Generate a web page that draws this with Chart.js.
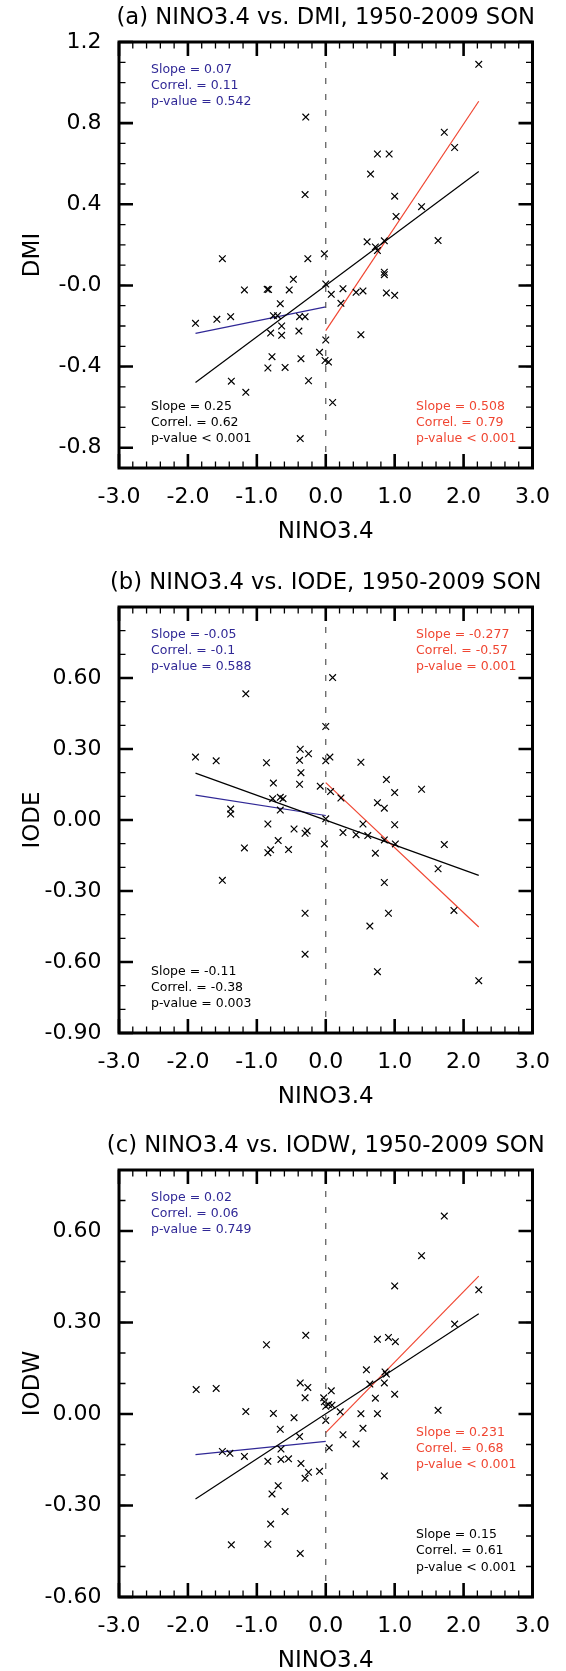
<!DOCTYPE html>
<html>
<head>
<meta charset="utf-8">
<script src="https://cdn.jsdelivr.net/npm/chart.js@4.4.0/dist/chart.umd.min.js"></script>
<style>
  html, body { margin: 0; padding: 0; background: #fff; }
  body { width: 566px; height: 1671px; position: relative; overflow: hidden; }
  .panel { position: absolute; left: 0; width: 566px; }
  canvas { display: block; }
</style>
</head>
<body>
<div class="panel" style="top:0px"><canvas id="chartA" width="566" height="565"></canvas></div>
<div class="panel" style="top:565px"><canvas id="chartB" width="566" height="563"></canvas></div>
<div class="panel" style="top:1128px"><canvas id="chartC" width="566" height="543"></canvas></div>
<script>
// ---- data ----
const xTicks = [-3, -2, -1, 0, 1, 2, 3];
const xTickLabels = ['-3.0', '-2.0', '-1.0', '0.0', '1.0', '2.0', '3.0'];

// (a) NINO3.4 vs DMI
const ninoA = [2.22,-0.29,1.72,1.87,0.75,0.92,0.65,-0.30,1.00,1.39,1.02,0.60,1.63,0.72,0.85,0.75,-1.50,-0.26,-0.02,0.85,
  0.85,-0.47,0.00,-1.18,-0.85,-0.83,-0.53,0.08,0.25,0.44,0.54,0.88,1.00,0.22,-0.66,-1.89,-1.58,-1.38,-0.76,-0.70,
  -0.38,-0.30,-0.64,-0.80,-0.64,-0.39,0.00,0.51,-0.09,-0.78,-0.36,-0.01,0.04,-0.84,-0.59,-1.37,-0.25,-1.16,0.10,-0.37];
const dmi = [1.09,0.83,0.755,0.68,0.648,0.648,0.549,0.448,0.44,0.388,0.34,0.215,0.221,0.19,0.22,0.172,0.132,0.132,0.156,0.065,
  0.053,0.03,0.007,-0.022,-0.019,-0.02,-0.022,-0.044,-0.016,-0.034,-0.027,-0.037,-0.049,-0.088,-0.09,-0.187,-0.167,-0.154,-0.149,-0.149,
  -0.154,-0.154,-0.2,-0.235,-0.246,-0.225,-0.269,-0.243,-0.33,-0.351,-0.361,-0.37,-0.378,-0.407,-0.404,-0.472,-0.47,-0.527,-0.577,-0.755];
const yTicksA = [-0.8, -0.4, 0, 0.4, 0.8, 1.2];
const yTickLabelsA = ['-0.8', '-0.4', '-0.0', '0.4', '0.8', '1.2'];

// (b) NINO3.4 vs IODE
const ninoB = [0.10,-1.16,0.00,-0.37,-0.25,-1.89,-1.59,-0.86,-0.38,0.00,0.06,0.51,-0.36,0.88,-0.76,-0.38,-0.08,1.39,1.00,0.07,
  0.22,-0.77,-0.66,-0.62,0.75,0.85,-1.38,-1.38,-0.66,0.00,-0.84,0.54,1.00,-0.46,-0.27,-0.30,0.25,0.44,0.61,0.85,
  -0.69,-0.02,1.01,1.72,-1.18,-0.54,-0.80,-0.84,0.72,1.63,-1.50,0.85,1.86,-0.30,0.91,0.64,-0.30,0.75,2.22];
const iode = [0.602,0.533,0.395,0.299,0.28,0.266,0.25,0.242,0.252,0.25,0.266,0.244,0.2,0.171,0.156,0.151,0.143,0.13,0.116,0.12,
  0.093,0.09,0.096,0.09,0.073,0.05,0.046,0.025,0.042,0.005,-0.017,-0.017,-0.02,-0.038,-0.046,-0.056,-0.053,-0.062,-0.066,-0.084,
  -0.087,-0.101,-0.101,-0.104,-0.118,-0.125,-0.126,-0.138,-0.14,-0.206,-0.255,-0.264,-0.382,-0.394,-0.394,-0.448,-0.567,-0.641,-0.679];
const yTicksB = [-0.9, -0.6, -0.3, 0, 0.3, 0.6];
const yTickLabelsB = ['-0.90', '-0.60', '-0.30', '0.00', '0.30', '0.60'];

// (c) NINO3.4 vs IODW
const ninoC = [1.72,1.39,1.00,2.22,1.87,-0.29,-0.86,0.75,0.91,1.01,0.59,0.86,0.88,-1.88,-1.59,-0.37,-0.26,0.64,0.85,0.08,
  1.00,-0.30,0.72,-0.03,-0.02,0.00,0.04,0.09,1.63,-1.16,-0.76,0.21,0.51,0.75,-0.46,0.00,-0.66,0.54,-0.38,0.25,
  0.44,0.05,-0.65,-1.50,-1.39,-1.18,-0.84,-0.65,-0.54,-0.36,-0.25,-0.09,-0.30,0.85,-0.69,-0.78,-0.59,-0.80,-1.37,-0.84,-0.37];
const iodw = [0.649,0.519,0.42,0.407,0.295,0.258,0.227,0.245,0.251,0.237,0.145,0.138,0.131,0.08,0.084,0.102,0.087,0.098,0.102,0.076,
  0.065,0.053,0.052,0.053,0.04,0.025,0.031,0.029,0.012,0.008,0.002,0.007,0.001,0.001,-0.012,-0.021,-0.05,-0.047,-0.074,-0.068,
  -0.098,-0.111,-0.115,-0.123,-0.129,-0.139,-0.155,-0.149,-0.147,-0.162,-0.191,-0.188,-0.211,-0.203,-0.235,-0.262,-0.32,-0.361,-0.429,-0.427,-0.457];
const yTicksC = [-0.6, -0.3, 0, 0.3, 0.6];
const yTickLabelsC = ['-0.60', '-0.30', '0.00', '0.30', '0.60'];

// regression line end points (x for all / negative / positive fits)
const fitXAll = [-1.89, 2.22];
const fitXNeg = [-1.89, 0];
const fitXPos = [0, 2.22];
const fitAllA = [-0.478, 0.562], fitNegA = [-0.236, -0.106], fitPosA = [-0.223, 0.908];
const fitAllB = [0.198, -0.234],  fitNegB = [0.105, 0.019],   fitPosB = [0.158, -0.452];
const fitAllC = [-0.279, 0.329], fitNegC = [-0.133, -0.090], fitPosC = [-0.061, 0.452];

// stats text
const statsAllA = ['Slope = 0.25', 'Correl. = 0.62', 'p-value < 0.001'];
const statsNegA = ['Slope = 0.07', 'Correl. = 0.11', 'p-value = 0.542'];
const statsPosA = ['Slope = 0.508', 'Correl. = 0.79', 'p-value < 0.001'];
const statsAllB = ['Slope = -0.11', 'Correl. = -0.38', 'p-value = 0.003'];
const statsNegB = ['Slope = -0.05', 'Correl. = -0.1', 'p-value = 0.588'];
const statsPosB = ['Slope = -0.277', 'Correl. = -0.57', 'p-value = 0.001'];
const statsAllC = ['Slope = 0.15', 'Correl. = 0.61', 'p-value < 0.001'];
const statsNegC = ['Slope = 0.02', 'Correl. = 0.06', 'p-value = 0.749'];
const statsPosC = ['Slope = 0.231', 'Correl. = 0.68', 'p-value < 0.001'];

const BLUE = '#302896';
const RED = '#f04632';
const FONT = '"DejaVu Sans", "Liberation Sans", sans-serif';

Chart.defaults.font.family = FONT;
Chart.defaults.color = '#000';

// frame, inward ticks, titles and stats text, NCL style
const ncDecor = {
  id: 'ncDecor',
  afterDatasetsDraw(chart, args, o) {
    const { ctx, chartArea: a, scales: { x, y } } = chart;
    ctx.save();
    ctx.strokeStyle = '#000';
    const xt = (vals, len, w) => {
      ctx.lineWidth = w;
      ctx.beginPath();
      vals.forEach(v => {
        const p = x.getPixelForValue(v);
        ctx.moveTo(p, a.bottom); ctx.lineTo(p, a.bottom - len);
        ctx.moveTo(p, a.top); ctx.lineTo(p, a.top + len);
      });
      ctx.stroke();
    };
    const yt = (vals, len, w) => {
      ctx.lineWidth = w;
      ctx.beginPath();
      vals.forEach(v => {
        const p = y.getPixelForValue(v);
        ctx.moveTo(a.left, p); ctx.lineTo(a.left + len, p);
        ctx.moveTo(a.right, p); ctx.lineTo(a.right - len, p);
      });
      ctx.stroke();
    };
    const minor = (lo, hi, step) => {
      const out = [];
      for (let v = lo; v <= hi + 1e-9; v += step) out.push(+v.toFixed(3));
      return out;
    };
    xt(minor(-3, 3, 0.2), 6.5, 1.3);
    yt(minor(o.yMin, o.yMax, 0.1), 6.5, 1.3);
    xt(xTicks, 14, 2.6);
    yt(o.yMajor, 14, 2.6);
    ctx.lineWidth = 3;
    ctx.strokeRect(a.left, a.top, a.right - a.left, a.bottom - a.top);

    ctx.fillStyle = '#000';
    ctx.textAlign = 'center';
    ctx.textBaseline = 'middle';
    ctx.font = '22.7px ' + FONT;
    ctx.fillText(o.title, (a.left + a.right) / 2, a.top - 24);
    ctx.font = '23px ' + FONT;
    ctx.fillText('NINO3.4', (a.left + a.right) / 2, a.bottom + 64);
    ctx.save();
    ctx.translate(33, (a.top + a.bottom) / 2);
    ctx.rotate(-Math.PI / 2);
    ctx.fillText(o.yTitle, 0, 0);
    ctx.restore();

    ctx.font = '12.5px ' + FONT;
    ctx.textAlign = 'left';
    o.notes.forEach(n => {
      ctx.fillStyle = n.color;
      const tx = a.left + (n.side === 'left' ? 32 : 297);
      n.lines.forEach((t, i) => ctx.fillText(t, tx, a.top + n.dy + i * 16.2));
    });
    ctx.restore();
  }
};

const pts = (xs, ys) => xs.map((v, i) => ({ x: v, y: ys[i] }));

function makePanel(id, p) {
  const lineDs = (xs, ys, color) => ({
    data: pts(xs, ys), showLine: true, borderColor: color, borderWidth: 1.2,
    pointRadius: 0, pointHoverRadius: 0, fill: false
  });
  return new Chart(document.getElementById(id), {
    type: 'scatter',
    data: {
      datasets: [
        {
          data: pts([0, 0], [p.yMin, p.yMax]), showLine: true, borderColor: '#555',
          borderWidth: 1.2, borderDash: [6, 10], pointRadius: 0, pointHoverRadius: 0
        },
        {
          data: pts(p.xs, p.ys), pointStyle: 'crossRot', pointRadius: 4.7, pointHoverRadius: 4.7,
          borderColor: '#000', backgroundColor: '#000', borderWidth: 1.2
        },
        lineDs(fitXAll, p.fitAll, '#000'),
        lineDs(fitXNeg, p.fitNeg, BLUE),
        lineDs(fitXPos, p.fitPos, RED)
      ]
    },
    options: {
      responsive: false,
      animation: false,
      devicePixelRatio: 1,
      events: [],
      layout: { padding: { top: 42, right: 20, left: 0, bottom: 0 } },
      scales: {
        x: {
          type: 'linear', min: -3, max: 3,
          grid: { display: false, drawTicks: false },
          border: { display: false },
          afterBuildTicks: s => { s.ticks = xTicks.map(v => ({ value: v })); },
          afterFit: s => { s.height = p.xAxisH; },
          ticks: { autoSkip: false, maxRotation: 0, padding: 16, font: { size: 22 },
            callback: (v, i) => xTickLabels[i] }
        },
        y: {
          type: 'linear', min: p.yMin, max: p.yMax,
          grid: { display: false, drawTicks: false },
          border: { display: false },
          afterBuildTicks: s => { s.ticks = p.yTicks.map(v => ({ value: v })); },
          afterFit: s => { s.width = 119; },
          ticks: { autoSkip: false, padding: 17.5, font: { size: 22 },
            callback: (v, i) => p.yLabels[i] }
        }
      },
      plugins: {
        legend: { display: false },
        tooltip: { enabled: false },
        ncDecor: {
          title: p.title, yTitle: p.yTitle, yMin: p.yMin, yMax: p.yMax, yMajor: p.yTicks,
          notes: p.notes
        }
      }
    },
    plugins: [ncDecor]
  });
}

makePanel('chartA', {
  title: '(a) NINO3.4 vs. DMI, 1950-2009 SON', yTitle: 'DMI',
  xs: ninoA, ys: dmi, yMin: -0.9, yMax: 1.2, yTicks: yTicksA, yLabels: yTickLabelsA,
  fitAll: fitAllA, fitNeg: fitNegA, fitPos: fitPosA, xAxisH: 97,
  notes: [
    { lines: statsNegA, color: BLUE, side: 'left', dy: 27.5 },
    { lines: statsAllA, color: '#000', side: 'left', dy: 364.7 },
    { lines: statsPosA, color: RED, side: 'right', dy: 364.7 }
  ]
});

makePanel('chartB', {
  title: '(b) NINO3.4 vs. IODE, 1950-2009 SON', yTitle: 'IODE',
  xs: ninoB, ys: iode, yMin: -0.9, yMax: 0.9, yTicks: yTicksB, yLabels: yTickLabelsB,
  fitAll: fitAllB, fitNeg: fitNegB, fitPos: fitPosB, xAxisH: 95,
  notes: [
    { lines: statsNegB, color: BLUE, side: 'left', dy: 27.5 },
    { lines: statsPosB, color: RED, side: 'right', dy: 27.5 },
    { lines: statsAllB, color: '#000', side: 'left', dy: 364.7 }
  ]
});

makePanel('chartC', {
  title: '(c) NINO3.4 vs. IODW, 1950-2009 SON', yTitle: 'IODW',
  xs: ninoC, ys: iodw, yMin: -0.6, yMax: 0.8, yTicks: yTicksC, yLabels: yTickLabelsC,
  fitAll: fitAllC, fitNeg: fitNegC, fitPos: fitPosC, xAxisH: 74,
  notes: [
    { lines: statsNegC, color: BLUE, side: 'left', dy: 27.5 },
    { lines: statsPosC, color: RED, side: 'right', dy: 262.7 },
    { lines: statsAllC, color: '#000', side: 'right', dy: 365 }
  ]
});
</script>
</body>
</html>
